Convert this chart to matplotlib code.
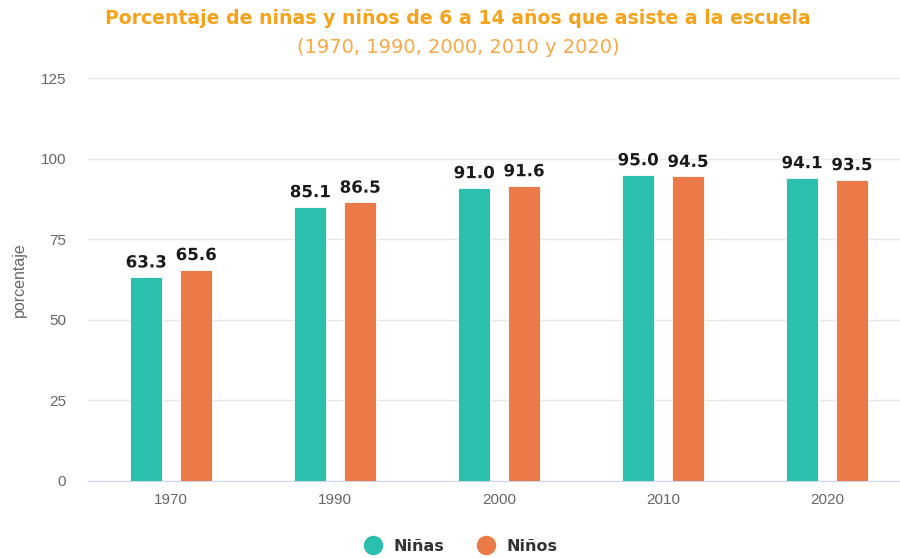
import numpy as np
import matplotlib.pyplot as plt
import matplotlib.patheffects as pe
from matplotlib.lines import Line2D

years = ['1970', '1990', '2000', '2010', '2020']
ninas = [63.3, 85.1, 91.0, 95.0, 94.1]
ninos = [65.6, 86.5, 91.6, 94.5, 93.5]

teal = '#2bbfae'
orange = '#ec7a48'
title_color = '#f7a21b'

fig = plt.figure(figsize=(9, 5.58), dpi=100)
ax = fig.add_axes([0.098, 0.138, 0.902, 0.722])

x = np.arange(len(years))
w = 0.195
off = 0.152
b1 = ax.bar(x - off, ninas, w, color=teal, edgecolor='white', linewidth=0.6, zorder=3)
b2 = ax.bar(x + off, ninos, w, color=orange, edgecolor='white', linewidth=0.6, zorder=3)

for bars, vals in [(b1, ninas), (b2, ninos)]:
    for r, v in zip(bars, vals):
        ax.annotate(f'{v:.1f}', (r.get_x() + r.get_width() / 2, v),
                    xytext=(0, 4), textcoords='offset points',
                    ha='center', va='bottom', fontsize=12, fontweight='bold',
                    color='#1a1a1a', family='DejaVu Sans', zorder=4,
                    path_effects=[pe.withStroke(linewidth=2.5, foreground='white')])

ax.set_xlim(-0.506, 4.445)
ax.set_ylim(0, 125)
ax.set_yticks([0, 25, 50, 75, 100, 125])
ax.set_xticks(x)
ax.set_xticklabels(years)
ax.yaxis.grid(True, color='#e6e6e6', linewidth=1, zorder=0)
ax.set_axisbelow(True)
for s in ['top', 'right', 'left']:
    ax.spines[s].set_visible(False)
ax.spines['bottom'].set_color('#ccd6eb')
ax.tick_params(axis='both', length=0, labelcolor='#666666', labelsize=11)
for t in ax.get_xticklabels() + ax.get_yticklabels():
    t.set_family('Liberation Sans')
ax.tick_params(axis='y', pad=16)
ax.tick_params(axis='x', pad=9)
ax.set_ylabel('porcentaje', color='#666666', fontsize=11.5, family='Liberation Sans', labelpad=10)

fig.text(0.509, 0.966, 'Porcentaje de niñas y niños de 6 a 14 años que asiste a la escuela',
         ha='center', va='center', color=title_color, fontsize=13.6, fontweight='bold')
fig.text(0.509, 0.914, '(1970, 1990, 2000, 2010 y 2020)',
         ha='center', va='center', color='#f9a845', fontsize=14)

handles = [Line2D([], [], marker='o', linestyle='', markersize=13, color=teal),
           Line2D([], [], marker='o', linestyle='', markersize=13, color=orange)]
fig.legend(handles, ['Niñas', 'Niños'], loc='center', bbox_to_anchor=(0.508, 0.021),
           ncol=2, frameon=False, handletextpad=0.3, columnspacing=1.6,
           prop={'weight': 'bold', 'size': 11.5})
for t in fig.legends[0].get_texts():
    t.set_color('#333333')

fig.savefig('out.png', dpi=100)
